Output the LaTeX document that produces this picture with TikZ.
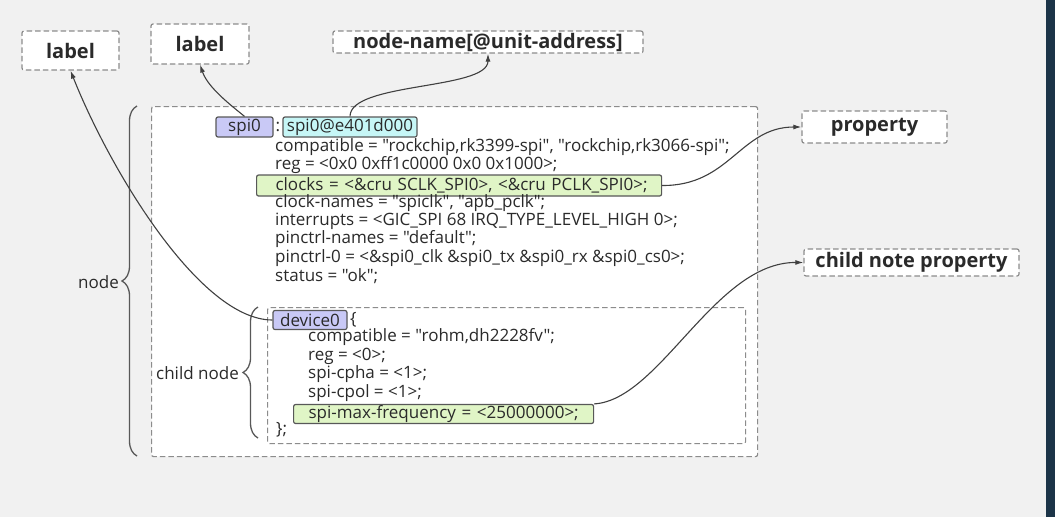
\documentclass[tikz,border=0pt]{standalone}
\usepackage{fontspec}
\newfontfamily\df{Open Sans}
\usetikzlibrary{arrows.meta,decorations.pathreplacing}
\definecolor{bg}{HTML}{F1F1F1}
\definecolor{dashc}{HTML}{8C8C8C}
\definecolor{txt}{HTML}{2A2A2A}
\definecolor{lav}{HTML}{C9C9F6}
\definecolor{cyn}{HTML}{C6F6F6}
\definecolor{grn}{HTML}{E0F5C6}
\definecolor{hlb}{HTML}{585858}
\definecolor{arrc}{HTML}{404040}
\definecolor{barc}{HTML}{1C3448}
\begin{document}
\begin{tikzpicture}[x=1pt,y=-1pt,
  every node/.style={font=\df\fontsize{17}{18}\selectfont, text=txt, inner sep=0pt},
  dbox/.style={draw=dashc, dash pattern=on 5.5pt off 3pt, line width=1.2pt, fill=white, rounded corners=2pt},
  hd/.style={font=\df\bfseries\fontsize{20}{22}\selectfont},
  hdm/.style={font=\df\bfseries\fontsize{20}{22}\selectfont},
  hl/.style={draw=hlb, line width=1.2pt, rounded corners=2pt, minimum height=20pt},
  arr/.style={-{Latex[length=8pt,width=5pt]}, draw=arrc, line width=1.1pt},
  brc/.style={decorate, decoration={brace, amplitude=15pt}, draw=hlb, line width=1.3pt},
  code/.style={anchor=west}
]
\useasboundingbox (0,0) rectangle (1055,517);
\fill[bg] (0,0) rectangle (1055,517);
\fill[barc] (1046,0) rectangle (1055,517);

% top label boxes
\node[dbox, hd, minimum width=97pt, minimum height=39pt] (lab1) at (70.5,50.5) {label};
\node[dbox, hd, minimum width=98pt, minimum height=40pt] (lab2) at (200,44) {label};
\node[dbox, hdm, minimum width=310pt, minimum height=22pt] (nn) at (488,42) {node-name[@unit-address]};
\node[dbox, hd, minimum width=145pt, minimum height=32pt] (prop) at (874.5,127) {property};
\node[dbox, hdm, minimum width=215pt, minimum height=27pt] (cnp) at (911.5,262.5) {child note property};

% outer and inner boxes
\node[dbox, anchor=north west, minimum width=606pt, minimum height=350pt] (outer) at (151,106) {};
\node[dbox, anchor=north west, minimum width=478pt, minimum height=136pt] (inner) at (267,307) {};

% braces
\draw[brc] (137,456) -- (137,106);
\node[anchor=east] (nodelbl) at (119,282) {node};
\draw[brc] (258,438) -- (258,307);
\node[anchor=east] (childlbl) at (239,373) {child node};

% node header
\node[hl, fill=lav, minimum width=57pt] (spi0) at (244.5,127) {spi0};
\node (colon) at (278,127) {:};
\node[hl, fill=cyn, minimum width=134pt] (spi0at) at (350,127) {spi0@e401d000};

% properties
\node[code] (l1) at (275,147) {compatible = "rockchip,rk3399-spi", "rockchip,rk3066-spi";};
\node[code] (l2) at (275,165.4) {reg = <0x0 0xff1c0000 0x0 0x1000>;};
\node[hl, fill=grn, anchor=west, minimum height=21pt, text width=405pt, align=left] (clk) at (256,185.5) {\hspace*{19pt}clocks = <\&cru SCLK\_SPI0>, <\&cru PCLK\_SPI0>;};
\node[code] (l4) at (275,202.8) {clock-names = "spiclk", "apb\_pclk";};
\node[code] (l5) at (275,221) {interrupts = <GIC\_SPI 68 IRQ\_TYPE\_LEVEL\_HIGH 0>;};
\node[code] (l6) at (275,239.5) {pinctrl-names = "default";};
\node[code] (l7) at (275,258) {pinctrl-0 = <\&spi0\_clk \&spi0\_tx \&spi0\_rx \&spi0\_cs0>;};
\node[code] (l8) at (275,276) {status = "ok";};

% child node
\node[hl, fill=lav, minimum width=74pt, minimum height=19pt] (dev) at (310,320) {device0};
\node[code] (brace) at (350,320) {\{};
\node[code] (c1) at (308,337) {compatible = "rohm,dh2228fv";};
\node[code] (c2) at (308,356) {reg = <0>;};
\node[code] (c3) at (308,374.5) {spi-cpha = <1>;};
\node[code] (c4) at (308,393) {spi-cpol = <1>;};
\node[hl, fill=grn, anchor=west, minimum height=19pt, text width=300pt, align=left] (smf) at (293,414) {\hspace*{15pt}spi-max-frequency = <25000000>;};
\node[code] (cend) at (276,430) {\};};

% connectors
\draw[arr] (spi0.north) .. controls (232,106) and (208,88) .. (lab2.south);
\draw[arr] (spi0at.north) .. controls (350,82) and (488,90) .. (nn.south);
\draw[arr] (dev.west) .. controls (200,320) and (110,170) .. (lab1.south);
\draw[arr] (clk.east) .. controls (730,186) and (740,127) .. (prop.west);
\draw[arr] (smf.north east) .. controls (660,400) and (715,262) .. (cnp.west);
\end{tikzpicture}
\end{document}
